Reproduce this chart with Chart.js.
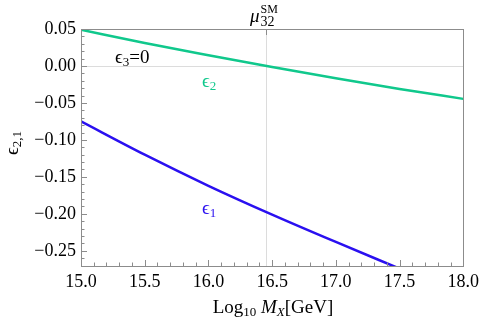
<!DOCTYPE html>
<html><head><meta charset="utf-8">
<script src="https://cdn.jsdelivr.net/npm/chart.js@4.4.1/dist/chart.umd.min.js"></script>
<style>html,body{margin:0;padding:0;background:#fff;}#wrap{width:484px;height:321px;position:relative;}</style>
</head><body><div id="wrap"><canvas id="c" width="484" height="321"></canvas></div>
<script>
const eps1x = [15, 15.5, 16, 16.5, 17, 17.5];
const eps1 = [-0.075, -0.12, -0.162, -0.201, -0.238, -0.274];
const eps2x = [15, 15.5, 16, 16.5, 17, 17.5, 18];
const eps2 = [0.049, 0.031, 0.0145, -0.0015, -0.0165, -0.031, -0.0445];
const xTicks = [15.0, 15.5, 16.0, 16.5, 17.0, 17.5, 18.0];
const yTicks = [0.05, 0.00, -0.05, -0.10, -0.15, -0.20, -0.25];
const mu32 = 16.45;

const FONT = '"Liberation Serif", "DejaVu Serif", serif';
const fmt = v => (v < 0 ? '\u2212' : '') + Math.abs(v).toFixed(2);
const fmtX = v => v.toFixed(1);

function drawSegs(ctx, x, y, segs, align) {
  // segs: [text, size, dy, color, style]
  let w = 0;
  segs.forEach(s => { ctx.font = (s[4] || '') + s[1] + 'px ' + FONT; w += ctx.measureText(s[0]).width; });
  let cx = align === 'center' ? x - w / 2 : x;
  segs.forEach(s => {
    ctx.font = (s[4] || '') + s[1] + 'px ' + FONT;
    ctx.fillStyle = s[3] || '#000';
    ctx.fillText(s[0], cx, y + (s[2] || 0));
    cx += ctx.measureText(s[0]).width;
  });
}

const deco = {
  id: 'deco',
  beforeDatasetsDraw(chart) {
    const {ctx, chartArea: a, scales: {x, y}} = chart;
    ctx.save();
    ctx.strokeStyle = '#dcdcdc'; ctx.lineWidth = 1;
    const gx = Math.round(x.getPixelForValue(mu32)) + 0.5;
    ctx.beginPath(); ctx.moveTo(gx, a.top); ctx.lineTo(gx, a.bottom); ctx.stroke();
    const gy = Math.round(y.getPixelForValue(0)) + 0.5;
    ctx.beginPath(); ctx.moveTo(a.left, gy); ctx.lineTo(a.right, gy); ctx.stroke();
    ctx.restore();
  },
  afterDatasetsDraw(chart) {
    const {ctx, chartArea: a, scales: {x, y}} = chart;
    ctx.save();
    ctx.strokeStyle = '#8c8c8c'; ctx.lineWidth = 1;
    ctx.strokeRect(Math.round(a.left) + 0.5, Math.round(a.top) + 0.5, Math.round(a.right - a.left), Math.round(a.bottom - a.top));
    ctx.beginPath();
    for (let i = 0; i <= 30; i++) {
      const v = 15 + i * 0.1;
      const px = Math.round(x.getPixelForValue(v)) + 0.5;
      const len = (i % 5 === 0) ? 6 : 3.5;
      ctx.moveTo(px, a.bottom); ctx.lineTo(px, a.bottom - len);
    }
    for (let i = 0; i <= 32; i++) {
      const v = 0.05 - i * 0.01;
      if (v < -0.2705) break;
      const py = Math.round(y.getPixelForValue(v)) + 0.5;
      const len = (i % 5 === 0) ? 6 : 3.5;
      ctx.moveTo(a.left, py); ctx.lineTo(a.left + len, py);
    }
    const tx = Math.round(x.getPixelForValue(mu32)) + 0.5;
    ctx.moveTo(tx, a.top); ctx.lineTo(tx, a.top + 6);
    ctx.stroke();

    ctx.textBaseline = 'alphabetic';
    // top label mu_32^SM (stacked sub/sup)
    ctx.font = 'italic 19px ' + FONT; ctx.fillStyle = '#000';
    ctx.fillText('\u03bc', 250, 22);
    const mw = ctx.measureText('\u03bc').width;
    ctx.font = '14px ' + FONT; ctx.fillText('32', 250 + mw + 1, 26);
    ctx.font = '12px ' + FONT; ctx.fillText('SM', 250 + mw + 1, 13);
    // annotations
    drawSegs(ctx, 115, 63, [['\u03f5', 19, 0], ['3', 13, 3], ['=0', 19, 0]], 'left');
    drawSegs(ctx, 202, 87, [['\u03f5', 19, 0, '#10c88c'], ['2', 13, 3, '#10c88c']], 'left');
    drawSegs(ctx, 202, 214, [['\u03f5', 19, 0, '#2a10f0'], ['1', 13, 3, '#2a10f0']], 'left');
    // x title
    drawSegs(ctx, 273, 313, [['Log', 19, 0], ['10', 13, 3], [' ', 19, 0], ['M', 19, 0, '#000', 'italic '], ['X', 13, 3, '#000', 'italic '], ['[GeV]', 19, 0]], 'center');
    // y title rotated
    ctx.translate(18, 143);
    ctx.rotate(-Math.PI / 2);
    drawSegs(ctx, 0, 0, [['\u03f5', 19, 0], ['2,1', 13, 3]], 'center');
    ctx.restore();
  }
};

new Chart(document.getElementById('c'), {
  type: 'scatter',
  data: {
    datasets: [
      { label: 'eps2', data: eps2x.map((v, i) => ({x: v, y: eps2[i]})), showLine: true, borderColor: '#10c88c', borderWidth: 2.5, pointRadius: 0, cubicInterpolationMode: 'monotone' },
      { label: 'eps1', data: eps1x.map((v, i) => ({x: v, y: eps1[i]})), showLine: true, borderColor: '#2a10f0', borderWidth: 2.5, pointRadius: 0, cubicInterpolationMode: 'monotone' }
    ]
  },
  options: {
    responsive: false, animation: false, devicePixelRatio: 1,
    layout: { padding: { top: 29, right: 18, left: 0, bottom: 0 } },
    plugins: { legend: { display: false }, tooltip: { enabled: false } },
    scales: {
      x: {
        type: 'linear', min: 15, max: 18,
        afterBuildTicks: s => { s.ticks = xTicks.map(v => ({value: v})); },
        afterFit: s => { s.height = 55; },
        grid: { display: false, drawTicks: false },
        border: { display: false },
        ticks: { callback: v => fmtX(v), color: '#000', font: { family: FONT, size: 18 }, padding: 5, maxRotation: 0 }
      },
      y: {
        type: 'linear', min: -0.2705, max: 0.05,
        afterBuildTicks: s => { s.ticks = yTicks.map(v => ({value: v})); },
        afterFit: s => { s.width = 81; },
        grid: { display: false, drawTicks: false },
        border: { display: false },
        ticks: { callback: v => fmt(v), color: '#000', font: { family: FONT, size: 18 }, padding: 5 }
      }
    }
  },
  plugins: [deco]
});
</script></body></html>
